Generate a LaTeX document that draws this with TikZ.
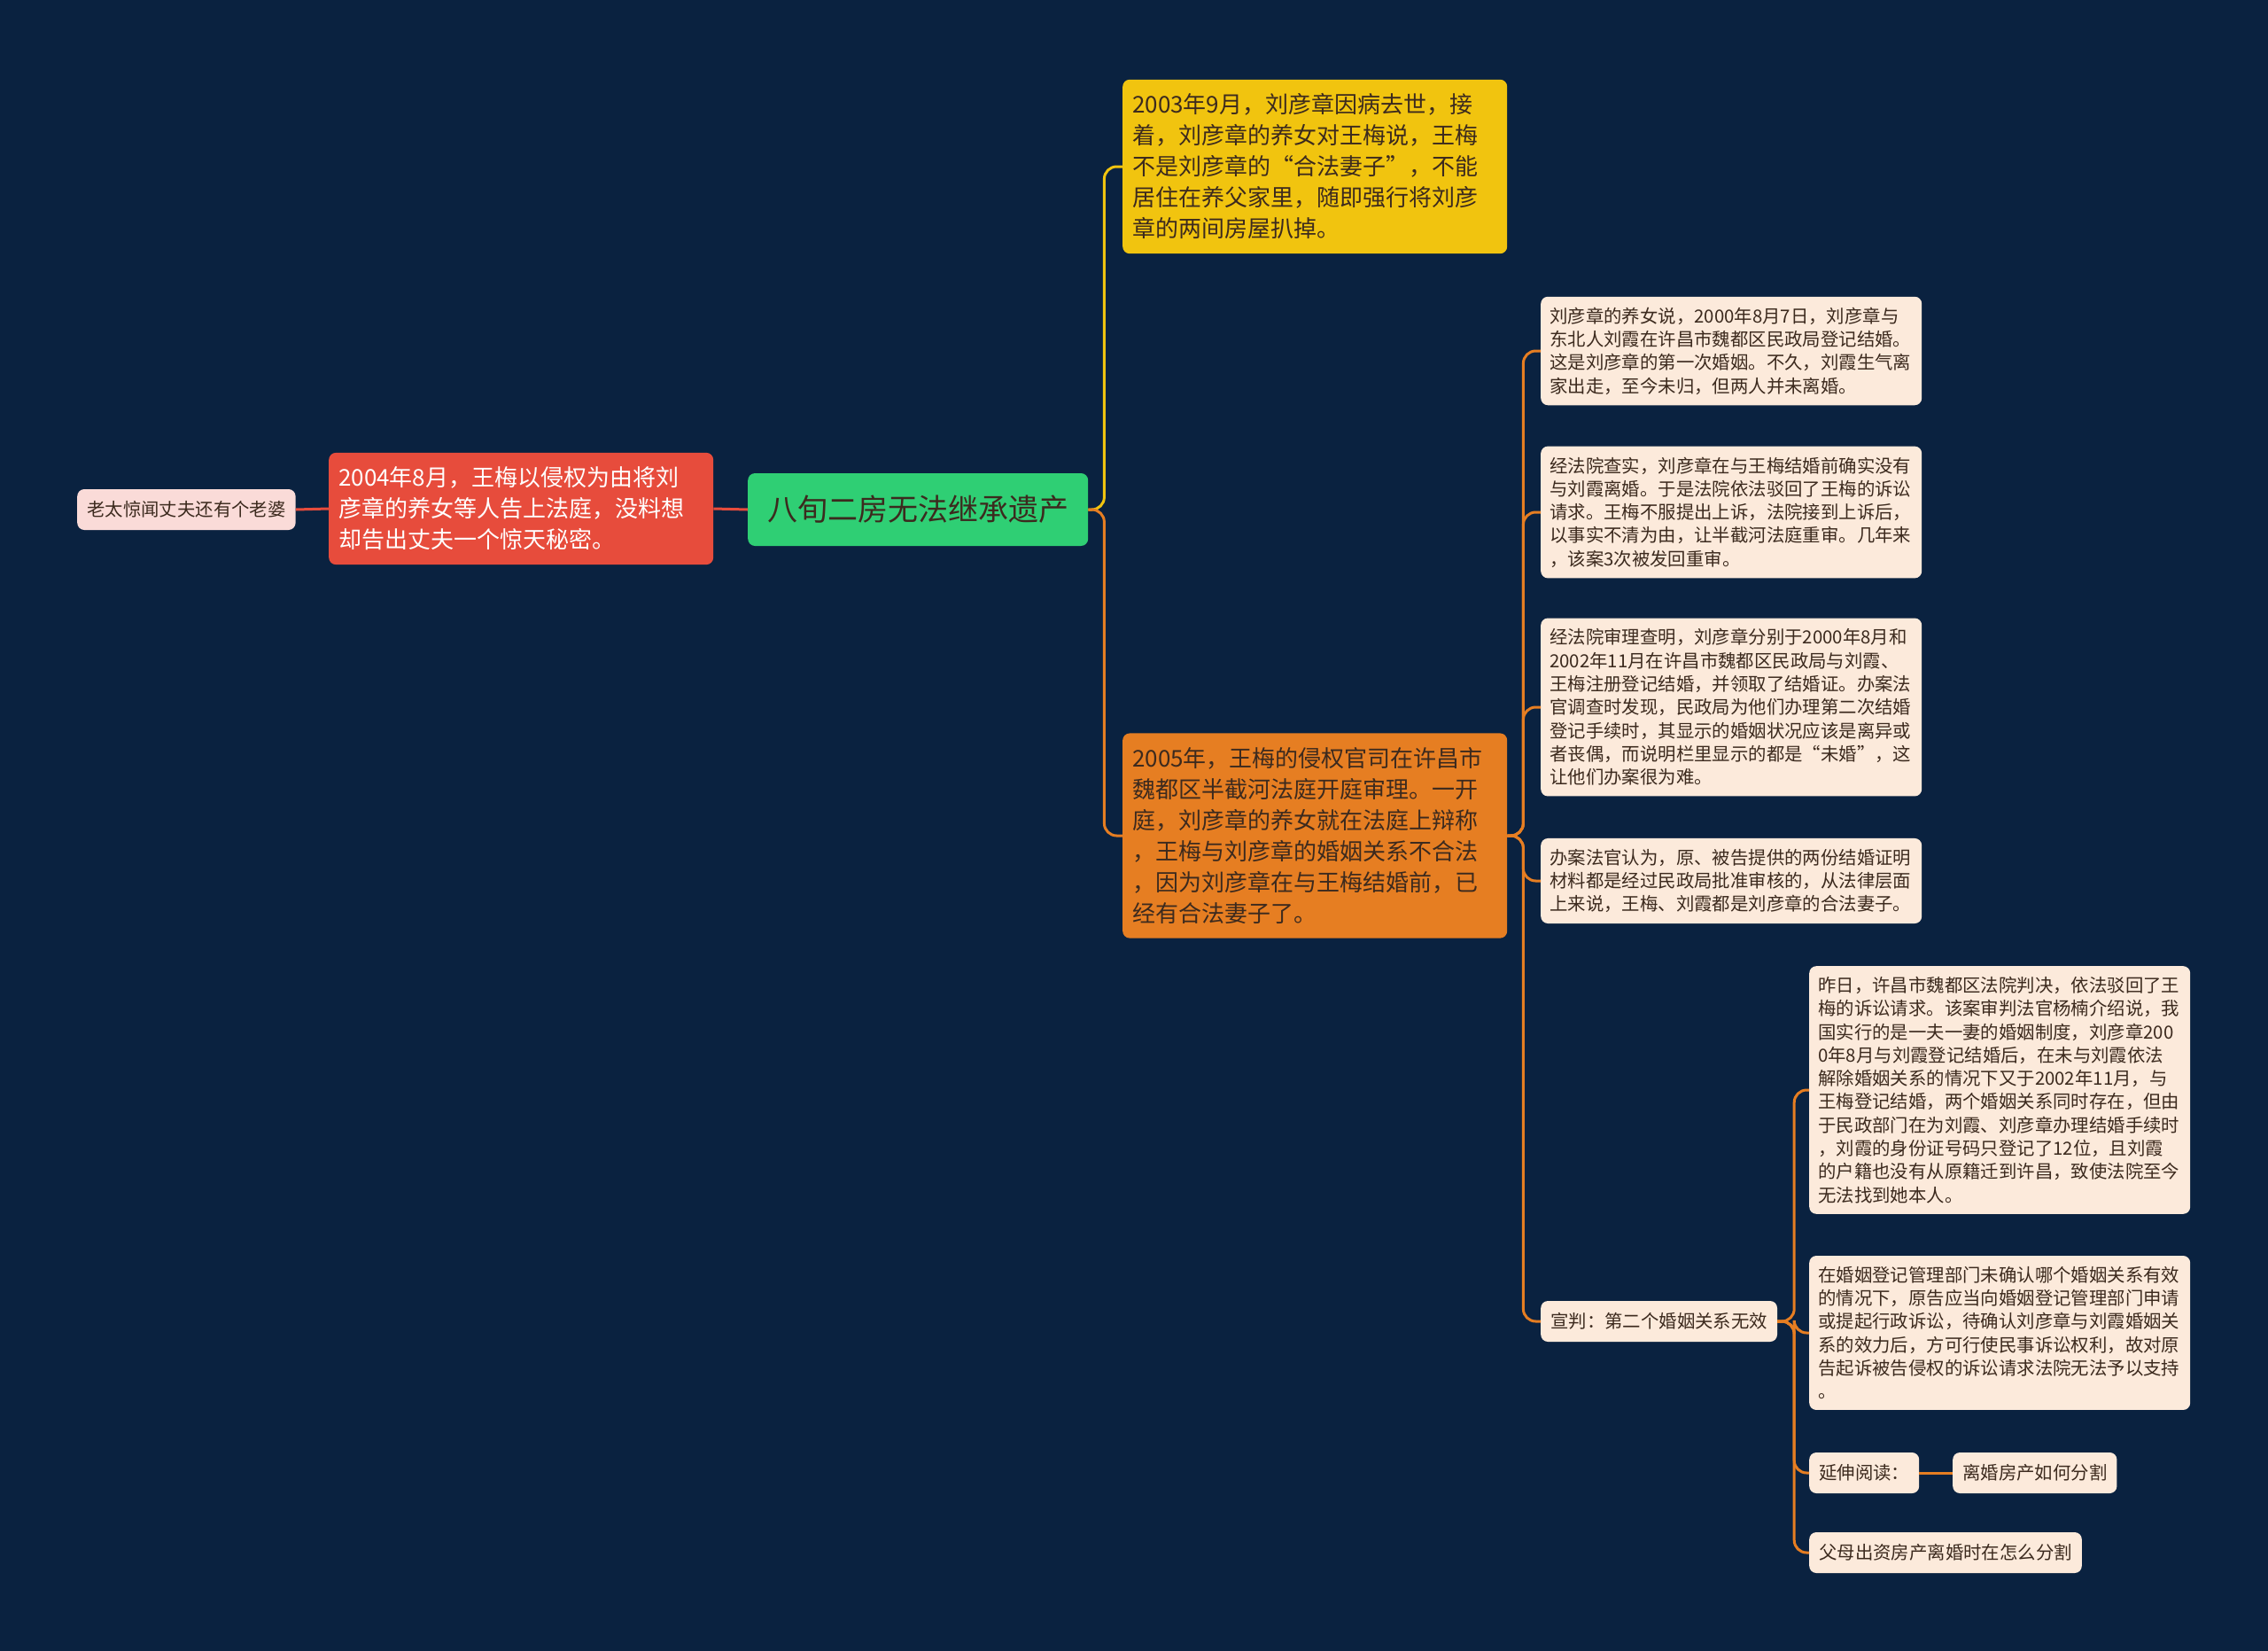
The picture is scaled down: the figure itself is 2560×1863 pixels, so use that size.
\documentclass[tikz,border=0pt]{standalone}
\usepackage{fontspec}
\setmainfont{Noto Sans CJK SC}
\usetikzlibrary{positioning}

\definecolor{navy}{HTML}{0A2240}
\definecolor{rootc}{HTML}{2FCF74}
\definecolor{redc}{HTML}{E74C3C}
\definecolor{yelc}{HTML}{F1C40F}
\definecolor{orgc}{HTML}{E67E22}
\definecolor{leafc}{HTML}{FCEADB}
\definecolor{pinkc}{HTML}{FADBD8}
\definecolor{inkc}{HTML}{3C2A1E}

\begin{document}
\begin{tikzpicture}[
            x=1pt, y=-1pt,
            box/.style={rounded corners=8pt, align=left, anchor=west},
            main/.style={box, text width=412pt, inner xsep=11pt, inner ysep=16pt,
                font=\fontsize{26}{35}\selectfont},
            leaf/.style={box, fill=leafc, text=inkc, text width=410pt,
                inner xsep=10pt, inner ysep=12pt, font=\fontsize{20.4}{26.3}\selectfont},
            tag/.style={box, fill=leafc, text=inkc, minimum height=46pt,
                inner xsep=11pt, font=\fontsize{20.4}{24}\selectfont},
            link/.style={line width=3pt, rounded corners=14pt}
        ]

        \fill[navy] (0,0) rectangle (2560,1863);
        \useasboundingbox (0,0) rectangle (2560,1863);

        % root and left branch
        \node[box, fill=rootc, text=inkc, minimum height=82pt, inner xsep=22pt,
            font=\fontsize{34}{40}\selectfont] (root) at (844,575) {八旬二房无法继承遗产};
        \node[main, fill=redc, text=white] (sued) at (371,574)
            {2004年8月，王梅以侵权为由将刘\\彦章的养女等人告上法庭，没料想\\却告出丈夫一个惊天秘密。};
        \node[tag, fill=pinkc] (secret) at (87,575) {老太惊闻丈夫还有个老婆};

        % right branches
        \node[main, fill=yelc, text=inkc] (death) at (1267,188)
            {2003年9月，刘彦章因病去世，接\\着，刘彦章的养女对王梅说，王梅\\不是刘彦章的“合法妻子”，不能\\居住在养父家里，随即强行将刘彦\\章的两间房屋扒掉。};
        \node[main, fill=orgc, text=inkc] (trial) at (1267,943)
            {2005年，王梅的侵权官司在许昌市\\魏都区半截河法庭开庭审理。一开\\庭，刘彦章的养女就在法庭上辩称\\，王梅与刘彦章的婚姻关系不合法\\，因为刘彦章在与王梅结婚前，已\\经有合法妻子了。};

        \node[leaf] (first) at (1739,396)
            {刘彦章的养女说，2000年8月7日，刘彦章与\\东北人刘霞在许昌市魏都区民政局登记结婚。\\这是刘彦章的第一次婚姻。不久，刘霞生气离\\家出走，至今未归，但两人并未离婚。};
        \node[leaf] (appeal) at (1739,578)
            {经法院查实，刘彦章在与王梅结婚前确实没有\\与刘霞离婚。于是法院依法驳回了王梅的诉讼\\请求。王梅不服提出上诉，法院接到上诉后，\\以事实不清为由，让半截河法庭重审。几年来\\，该案3次被发回重审。};
        \node[leaf] (record) at (1739,798)
            {经法院审理查明，刘彦章分别于2000年8月和\\2002年11月在许昌市魏都区民政局与刘霞、\\王梅注册登记结婚，并领取了结婚证。办案法\\官调查时发现，民政局为他们办理第二次结婚\\登记手续时，其显示的婚姻状况应该是离异或\\者丧偶，而说明栏里显示的都是“未婚”，这\\让他们办案很为难。};
        \node[leaf] (judge) at (1739,994)
            {办案法官认为，原、被告提供的两份结婚证明\\材料都是经过民政局批准审核的，从法律层面\\上来说，王梅、刘霞都是刘彦章的合法妻子。};
        \node[tag] (verdict) at (1739,1491) {宣判：第二个婚姻关系无效};

        % verdict details
        \node[leaf] (ruling) at (2042,1230)
            {昨日，许昌市魏都区法院判决，依法驳回了王\\梅的诉讼请求。该案审判法官杨楠介绍说，我\\国实行的是一夫一妻的婚姻制度，刘彦章200\\0年8月与刘霞登记结婚后，在未与刘霞依法\\解除婚姻关系的情况下又于2002年11月，与\\王梅登记结婚，两个婚姻关系同时存在，但由\\于民政部门在为刘霞、刘彦章办理结婚手续时\\，刘霞的身份证号码只登记了12位，且刘霞\\的户籍也没有从原籍迁到许昌，致使法院至今\\无法找到她本人。};
        \node[leaf] (reason) at (2042,1504)
            {在婚姻登记管理部门未确认哪个婚姻关系有效\\的情况下，原告应当向婚姻登记管理部门申请\\或提起行政诉讼，待确认刘彦章与刘霞婚姻关\\系的效力后，方可行使民事诉讼权利，故对原\\告起诉被告侵权的诉讼请求法院无法予以支持\\。};
        \node[tag] (more) at (2042,1662) {延伸阅读：};
        \node[tag] (read1) at (2204,1662) {离婚房产如何分割};
        \node[tag] (read2) at (2042,1752) {父母出资房产离婚时在怎么分割};

        % connectors
        \draw[link, redc] (root.west) -- (sued.east);
        \draw[link, redc] (sued.west) -- (secret.east);
        \draw[link, yelc] (root.east) -- ++(18,0) |- (death.west);
        \draw[link, orgc] (root.east) -- ++(18,0) |- (trial.west);
        \foreach \n in {first, appeal, record, judge, verdict}
            \draw[link, orgc] (trial.east) -- ++(18,0) |- (\n.west);
        \foreach \n in {ruling, reason, more, read2}
            \draw[link, orgc] (verdict.east) -- ++(19,0) |- (\n.west);
        \draw[link, orgc] (more.east) -- (read1.west);

    \end{tikzpicture}
\end{document}
